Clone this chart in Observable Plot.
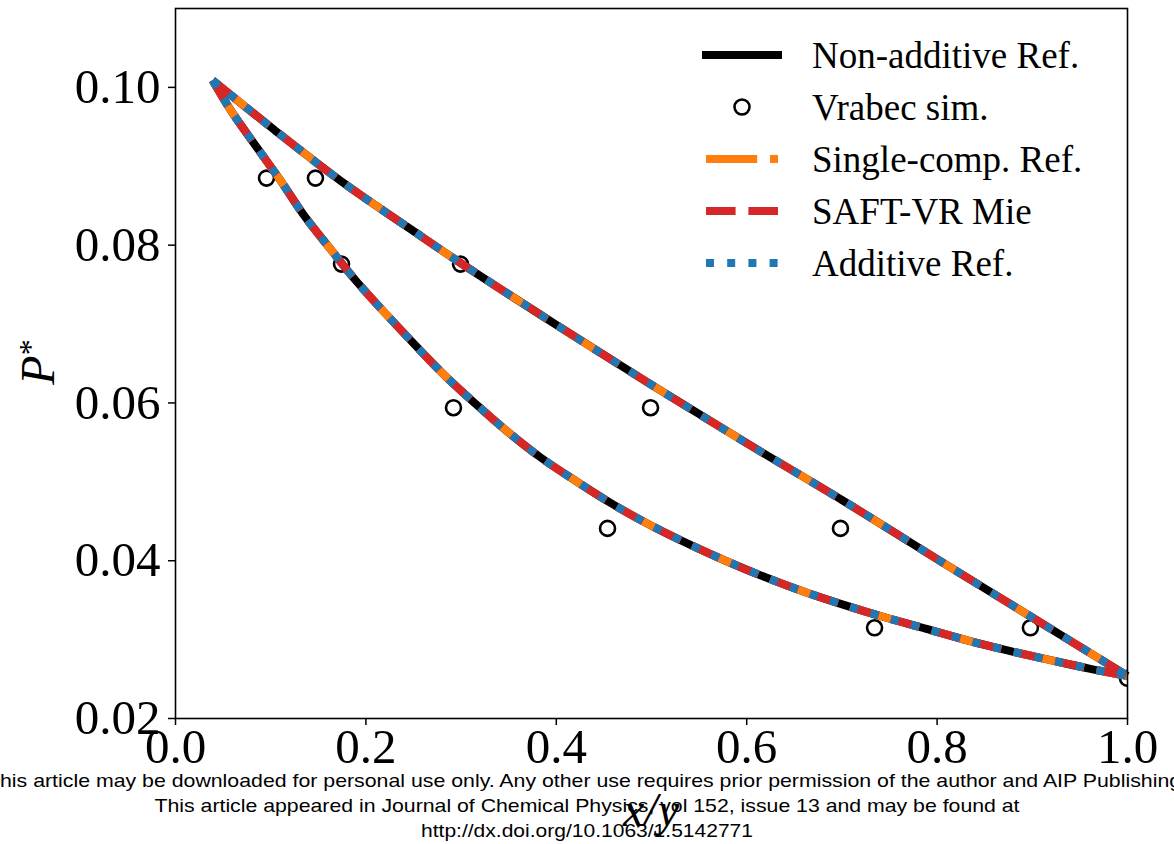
<!DOCTYPE html>
<html>
<head>
<meta charset="utf-8">
<script src="https://cdn.jsdelivr.net/npm/d3@7"></script>
<script src="https://cdn.jsdelivr.net/npm/@observablehq/plot@0.6"></script>
<style>
  html, body { margin: 0; padding: 0; background: #fff; }
  #chart svg { display: block; }
</style>
</head>
<body>
<div id="chart"></div>
<script>
// Upper branch (bubble line)
const upperX = [0.039, 0.105, 0.1751, 0.2486, 0.300, 0.400, 0.500, 0.600, 0.700, 0.800, 0.900, 1.000];
const upperY = [0.1009, 0.0945, 0.0880, 0.0819, 0.0777, 0.0699, 0.0623, 0.0549, 0.0477, 0.0402, 0.0328, 0.0254];
// Lower branch (dew line)
const lowerX = [0.039, 0.058, 0.089, 0.1103, 0.1348, 0.1628, 0.1909, 0.2504, 0.2818, 0.3151, 0.3484, 0.3834, 0.4219, 0.4587, 0.4989, 0.5375, 0.5777, 0.6197, 0.6618, 0.702, 0.7458, 0.7878, 0.8316, 0.875, 0.919, 0.961, 1.000];
const lowerY = [0.1009, 0.0971, 0.0918, 0.0882, 0.0838, 0.0795, 0.0753, 0.0675, 0.0636, 0.0599, 0.0564, 0.0531, 0.0500, 0.0472, 0.0445, 0.0422, 0.0400, 0.0379, 0.0360, 0.0344, 0.0328, 0.0314, 0.0299, 0.0286, 0.0274, 0.0263, 0.0254];
// Vrabec simulation points
const simX = [0.0956, 0.147, 0.1744, 0.2994, 0.292, 0.499, 0.4538, 0.6985, 0.7343, 0.898, 1.0];
const simY = [0.0885, 0.0885, 0.0776, 0.0776, 0.0594, 0.0594, 0.0441, 0.0441, 0.0315, 0.0315, 0.0251];
// Tick values
const xTicks = [0, 0.2, 0.4, 0.6, 0.8, 1.0];
const yTicks = [0.02, 0.04, 0.06, 0.08, 0.10];
// Series (all models coincide visually)
const seriesNames = ["Non-additive Ref.", "Single-comp. Ref.", "SAFT-VR Mie", "Additive Ref."];
const seriesColors = ["#000000", "#ff7f0e", "#d62728", "#1f77b4"];
const seriesDash = [null, "51.2,12.8,8,12.8", "29.6,12.8", "8,13.2"];
const legendLabels = ["Non-additive Ref.", "Vrabec sim.", "Single-comp. Ref.", "SAFT-VR Mie", "Additive Ref."];
const footerLines = [
  "This article may be downloaded for personal use only. Any other use requires prior permission of the author and AIP Publishing.",
  "This article appeared in Journal of Chemical Physics, vol 152, issue 13 and may be found at",
  "http://dx.doi.org/10.1063/1.5142771"
];

const curve = [];
upperX.forEach((x, i) => curve.push({branch: "upper", x, y: upperY[i]}));
lowerX.forEach((x, i) => curve.push({branch: "lower", x, y: lowerY[i]}));
const sim = simX.map((x, i) => ({x, y: simY[i]}));

const LW = 8;
function lineMark(k) {
  const o = {x: "x", y: "y", z: "branch", stroke: seriesColors[k], strokeWidth: LW,
    curve: "catmull-rom", strokeLinecap: "butt", strokeLinejoin: "round"};
  if (seriesDash[k]) o.strokeDasharray = seriesDash[k];
  return Plot.line(curve, o);
}

const W = 1174, H = 844;
const mL = 175, mR = 47, mT = 8, mB = 126;

const chart = Plot.plot({
  width: W, height: H,
  marginLeft: mL, marginRight: mR, marginTop: mT, marginBottom: mB,
  style: {fontFamily: "'Liberation Serif', serif", fontSize: "49px", background: "#fff", color: "#000"},
  x: {domain: [0, 1]},
  y: {domain: [0.02, 0.11]},
  marks: [
    Plot.axisX({ticks: xTicks, tickFormat: d => d.toFixed(1), tickSize: 7, tickPadding: 3, strokeWidth: 1.5, label: null, fontSize: 49}),
    Plot.axisY({ticks: yTicks, tickFormat: d => d.toFixed(2), tickSize: 7, tickPadding: 8, strokeWidth: 1.5, label: null, fontSize: 49}),
    lineMark(0),
    Plot.dot(sim, {x: "x", y: "y", r: 7.5, stroke: "#000", strokeWidth: 2.6, fill: "none", clip: true}),
    lineMark(1),
    lineMark(2),
    lineMark(3),
    Plot.frame({stroke: "#000", strokeWidth: 1.6})
  ]
});

const svg = d3.select(chart);

// Axis labels
svg.append("text")
  .attr("x", (mL + (W - mR)) / 2).attr("y", 826)
  .attr("text-anchor", "middle")
  .style("font-family", "'Liberation Serif', serif").style("font-style", "italic").style("font-size", "48px")
  .text("x/y");
const yl = svg.append("text")
  .attr("transform", `translate(54, 362) rotate(-90)`)
  .attr("text-anchor", "middle")
  .style("font-family", "'Liberation Serif', serif").style("font-style", "italic").style("font-size", "48px");
yl.append("tspan").text("P");
yl.append("tspan").attr("dy", "-0.42em").style("font-size", "32px").style("font-style", "normal").text("*");

// Legend
const lg = svg.append("g");
const lx0 = 706, lx1 = 778, ly0 = 55, ldy = 52;
legendLabels.forEach((lab, i) => {
  const cy = ly0 + i * ldy;
  if (i === 1) {
    lg.append("circle").attr("cx", (lx0 + lx1) / 2).attr("cy", cy).attr("r", 7.5)
      .attr("fill", "none").attr("stroke", "#000").attr("stroke-width", 2.6);
  } else {
    const k = seriesNames.indexOf(lab);
    const ln = lg.append("line").attr("x1", lx0).attr("x2", lx1).attr("y1", cy).attr("y2", cy)
      .attr("stroke", seriesColors[k]).attr("stroke-width", LW)
      .attr("stroke-linecap", k === 0 ? "square" : "butt");
    if (seriesDash[k]) ln.attr("stroke-dasharray", seriesDash[k]);
  }
  lg.append("text").attr("x", 812).attr("y", cy).attr("dy", "0.35em")
    .attr("text-anchor", "start")
    .style("font-family", "'Liberation Serif', serif").style("font-size", "37px")
    .text(lab);
});

// Footer notice
const footLens = [1200, 865, 332];
footerLines.forEach((t, i) => {
  svg.append("text").attr("x", W / 2).attr("y", 787 + i * 25)
    .attr("text-anchor", "middle")
    .attr("textLength", footLens[i]).attr("lengthAdjust", "spacingAndGlyphs")
    .style("font-family", "'Liberation Sans', Arial, sans-serif").style("font-size", "19px")
    .text(t);
});

document.getElementById("chart").appendChild(chart);
</script>
</body>
</html>
